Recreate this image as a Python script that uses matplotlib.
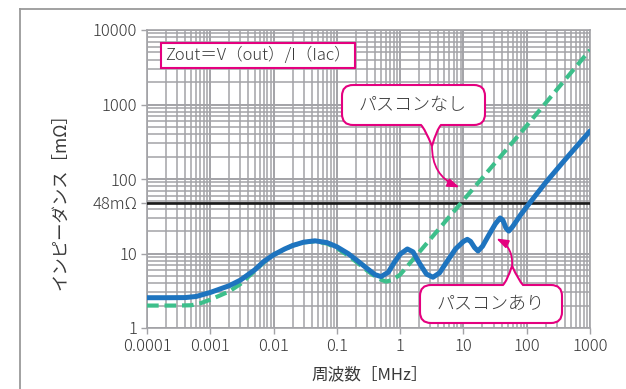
import numpy as np
import matplotlib
matplotlib.use("Agg")
import matplotlib.pyplot as plt
from matplotlib.ticker import LogLocator, FixedLocator, NullFormatter
from matplotlib.lines import Line2D
from matplotlib.path import Path
from matplotlib.patches import PathPatch

plt.rcParams['font.family'] = ['Noto Sans CJK JP', 'DejaVu Sans']
plt.rcParams['font.weight'] = 'light'

# frequency [MHz] vs impedance [mOhm]
f_with = [1e-4, 2e-4, 4e-4, 6e-4, 1e-3, 2e-3, 3e-3, 5e-3, 7e-3, 1e-2, 1.5e-2, 2e-2,
          3e-2, 4.5e-2, 7e-2, 0.1, 0.15, 0.2, 0.3, 0.4, 0.5, 0.65, 0.8, 1.0, 1.3,
          1.6, 2.0, 2.6, 3.3, 4.2, 5.5, 7.5, 10, 11.5, 13, 15, 17, 20, 25, 32, 38,
          42, 47, 52, 60, 80, 112, 200, 400, 1000]
z_with = [2.55, 2.55, 2.56, 2.65, 3.0, 3.7, 4.4, 6.0, 7.8, 9.6, 11.5, 12.8,
          14.2, 14.8, 14.0, 12.3, 10.0, 8.3, 6.3, 5.2, 4.9, 5.6, 7.5, 9.8, 11.5,
          10.5, 7.5, 5.3, 4.8, 5.5, 7.8, 11.5, 14.5, 15.5, 14.5, 12.0, 10.8, 12.5,
          17.5, 25, 30, 28, 22, 20, 23, 33, 48, 90, 180, 440]

f_without = [1e-4, 3e-4, 5e-4, 7e-4, 1e-3, 2e-3, 3e-3, 5e-3, 7e-3, 1e-2, 2e-2, 3e-2,
             4.5e-2, 7e-2, 0.1, 0.15, 0.2, 0.3, 0.45, 0.6, 0.75, 1.0, 2.0, 10, 100, 1000]
z_without = [2.0, 2.0, 2.02, 2.15, 2.4, 3.1, 3.9, 5.8, 7.6, 9.6, 12.8, 14.1,
             14.6, 13.6, 11.8, 9.4, 7.8, 5.9, 4.6, 4.2, 4.4, 5.2, 10.4, 52, 520, 5400]

target = 48
ytick_vals = [1, 10, 100, 1000, 10000, target]
ytick_labels = ['1', '10', '100', '1000', '10000', '48mΩ']
xtick_vals = [1e-4, 1e-3, 1e-2, 1e-1, 1, 10, 100, 1000]
xtick_labels = ['0.0001', '0.001', '0.01', '0.1', '1', '10', '100', '1000']

blue = '#1e74bf'
green = '#3dbf8b'
magenta = '#e4007f'
grid_c = '#a3a3a7'
text_c = '#3a3a3a'

W, H = 626, 389
AX_L, AX_R, AX_T, AX_B = 147, 590, 30, 328

fig = plt.figure(figsize=(W / 100, H / 100), dpi=100)
ax = fig.add_axes([AX_L / W, (H - AX_B) / H, (AX_R - AX_L) / W, (AX_B - AX_T) / H])
ax.set_xscale('log')
ax.set_yscale('log')
ax.set_xlim(1e-4, 1000)
ax.set_ylim(1, 10000)

ax.xaxis.set_major_locator(FixedLocator(xtick_vals))
ax.xaxis.set_ticklabels(xtick_labels)
ax.yaxis.set_major_locator(FixedLocator(ytick_vals))
ax.yaxis.set_ticklabels(ytick_labels)
ax.xaxis.set_minor_locator(LogLocator(base=10, subs=np.arange(2, 10), numticks=20))
ax.yaxis.set_minor_locator(LogLocator(base=10, subs=np.arange(2, 10), numticks=20))
ax.xaxis.set_minor_formatter(NullFormatter())
ax.yaxis.set_minor_formatter(NullFormatter())

ax.grid(True, which='major', color=grid_c, lw=1.4)
ax.grid(True, which='minor', color=grid_c, lw=1.1)
ax.tick_params(which='major', length=4, width=1, color=grid_c, labelsize=12,
               labelcolor=text_c, pad=3)
ax.tick_params(which='minor', length=0)
for s in ax.spines.values():
    s.set_color(grid_c)
    s.set_linewidth(1.2)
ax.set_axisbelow(True)

ax.axhline(target, color='#1a1a1a', lw=1.9, zorder=3)
ax.plot(f_without, z_without, color=green, lw=3.0, dashes=(2.8, 1.4),
        solid_capstyle='butt', zorder=4)
ax.plot(f_with, z_with, color=blue, lw=3.6, solid_joinstyle='round',
        solid_capstyle='round', zorder=5)

ax.set_xlabel('周波数［MHz］', fontsize=12, color=text_c)
ax.set_ylabel('インピーダンス［mΩ］', fontsize=12.5, color=text_c)


def to_ax(px, py):
    # picture pixel (y down) -> axes fraction
    return ((px - AX_L) / (AX_R - AX_L), (AX_B - py) / (AX_B - AX_T))


ax.xaxis.set_label_coords(*to_ax(370, 366))
ax.yaxis.set_label_coords(*to_ax(69, 197))

ax.text(*to_ax(258, 55.5), 'Zout＝V（out）/I（Iac）', transform=ax.transAxes,
        ha='center', va='center', fontsize=12, color=text_c, zorder=6,
        bbox=dict(boxstyle='square,pad=0.22', fc='white', ec=magenta, lw=1.5))


def bubble(x0, y0, x1, y1, r, tb0, tb1, tip, side):
    # rounded box with a small tail, in picture pixels
    q = Path.CURVE3
    verts = [(x0 + r, y0)]
    codes = [Path.MOVETO]
    if side == 'top':
        verts += [(tb0, y0), (tb0 + 4, y0 - 4), tip, (tb1 - 4, y0 - 4), (tb1, y0)]
        codes += [Path.LINETO, q, q, q, q]
    verts += [(x1 - r, y0), (x1, y0), (x1, y0 + r), (x1, y1 - r), (x1, y1), (x1 - r, y1)]
    codes += [Path.LINETO, q, q, Path.LINETO, q, q]
    if side == 'bottom':
        verts += [(tb1, y1), (tb1 - 4, y1 + 4), tip, (tb0 + 4, y1 + 4), (tb0, y1)]
        codes += [Path.LINETO, q, q, q, q]
    verts += [(x0 + r, y1), (x0, y1), (x0, y1 - r), (x0, y0 + r), (x0, y0), (x0 + r, y0)]
    codes += [Path.LINETO, q, q, Path.LINETO, q, q]
    verts = [to_ax(*v) for v in verts]
    ax.add_patch(PathPatch(Path(verts, codes), transform=ax.transAxes, fc='white',
                           ec=magenta, lw=1.5, zorder=7, clip_on=False))


arrow = dict(arrowstyle='-|>,head_length=0.7,head_width=0.25', color=magenta,
             lw=1.3, shrinkA=0, shrinkB=1, connectionstyle='arc3,rad=0.35')

bubble(342, 85, 485, 125, 11, 421, 441, (432, 146), 'bottom')
ax.text(*to_ax(413, 105), 'パスコンなし', transform=ax.transAxes, ha='center',
        va='center', fontsize=13, color=text_c, zorder=8)
ax.annotate('', xy=(9.1, 76), xycoords='data', xytext=to_ax(432, 145),
            textcoords='axes fraction', arrowprops=arrow, zorder=8)

bubble(420, 285, 562, 323, 11, 503, 523, (512, 266), 'top')
ax.text(*to_ax(491, 304), 'パスコンあり', transform=ax.transAxes, ha='center',
        va='center', fontsize=13, color=text_c, zorder=8)
ax.annotate('', xy=(31.6, 16.2), xycoords='data', xytext=to_ax(512, 267),
            textcoords='axes fraction', arrowprops=arrow, zorder=8)

# outer frame (top and left edges visible)
fig.add_artist(Line2D([20 / W, 1], [1 - 9 / H, 1 - 9 / H], color='#9a9a9a', lw=1.3))
fig.add_artist(Line2D([20 / W, 20 / W], [0, 1 - 9 / H], color='#9a9a9a', lw=1.3))

fig.savefig('out.png', dpi=100)
